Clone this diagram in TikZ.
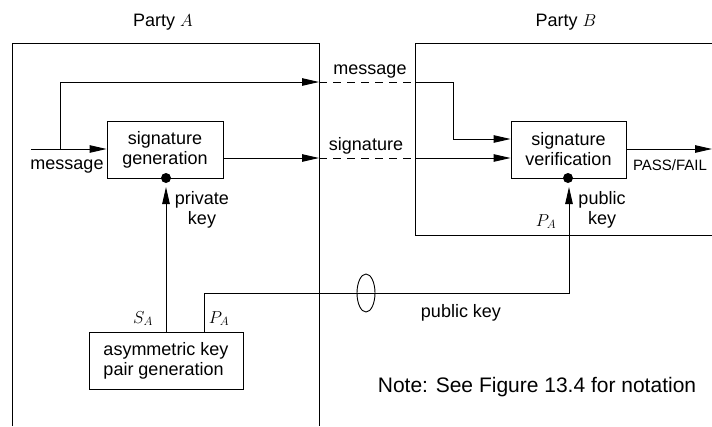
\documentclass[tikz,border=0pt]{standalone}
\usepackage{fontspec}
\setmainfont{Liberation Sans}
\usetikzlibrary{arrows.meta}
\begin{document}
\begin{tikzpicture}[x=1pt,y=-1pt,line width=0.9pt,
  txt/.style={font=\fontsize{18}{20}\selectfont,inner sep=0pt},
  box/.style={draw,txt,minimum height=57pt,align=center},
  dot/.style={circle,fill,inner sep=0pt,minimum size=10pt},
  arr/.style={-{Triangle[length=17pt,width=7.5pt]}},
  dsh/.style={dash pattern=on 8pt off 6pt}]
\useasboundingbox (0,0) rectangle (712,426);
% party frames
\draw (12,426) -- (12,43) -- (319,43) -- (319,426);
\draw (712,43) -- (415,43) -- (415,235) -- (712,235);
\node[txt,anchor=base] (pA) at (163,26) {Party $A$};
\node[txt,anchor=base] (pB) at (566,26) {Party $B$};
% blocks
\node[box,minimum width=116pt] (sg) at (165,149.5) {signature\\generation};
\node[box,minimum width=115pt] (sv) at (568.5,149.5) {signature\\verification};
\node[box,minimum width=154pt,align=left] (kp) at (166,360.5) {asymmetric key\\pair generation};
\node[dot] (d1) at (166,178) {};
\node[dot] (d2) at (568,178) {};
% coordinates
\coordinate (in) at (31,149);
\coordinate (br) at (60,149);
\coordinate (mA) at (319,82);
\coordinate (mB) at (415,82);
\coordinate (mC) at (453,82);
\coordinate (mD) at (453,139);
\coordinate (sA) at (319,158);
\coordinate (sB) at (415,158);
\coordinate (out) at (712,149);
\coordinate (sk) at (166,332);
\coordinate (pk) at (204,332);
\coordinate (pk1) at (204,293);
\coordinate (pk2) at (569,293);
% message
\draw[arr] (in) -- (sg.west |- in);
\draw[arr] (br) |- (mA);
\draw[dsh] (mA) -- (mB);
\draw[arr] (mB) -- (mC) -- (mD) -- (sv.west |- mD);
\node[txt,anchor=base] (lm1) at (67,169) {message};
\node[txt,anchor=base] (lm2) at (370,74) {message};
% signature
\draw[arr] (sg.east |- sA) -- (sA);
\draw[dsh] (sA) -- (sB);
\draw[arr] (sB) -- (sv.west |- sB);
\node[txt,anchor=base] (ls) at (366,150) {signature};
% output
\draw[arr] (sv.east |- out) -- (out);
\node[txt,font=\fontsize{15}{17}\selectfont,anchor=base] (lpf) at (670,170) {PASS/FAIL};
% private key
\draw[arr] (sk) -- (166,187);
\node[txt,align=center] (lpr) at (202,209.5) {private\\key};
\node[txt,anchor=base] (lsa) at (143,323) {$S_A$};
\node[txt,anchor=base] (lpa) at (219,323) {$P_A$};
% public key
\draw[arr] (pk) -- (pk1) -- (pk2) -- (569,187);
\draw (366,293) ellipse (9pt and 19pt);
\node[txt,align=center] (lpu) at (602,209.5) {public\\key};
\node[txt,anchor=base] (lpb) at (546,226) {$P_A$};
\node[txt,anchor=base] (lpk) at (461,317) {public key};
\node[txt,font=\fontsize{21}{23}\selectfont,anchor=base] (note) at (537,392) {Note: See Figure 13.4 for notation};
\end{tikzpicture}
\end{document}
